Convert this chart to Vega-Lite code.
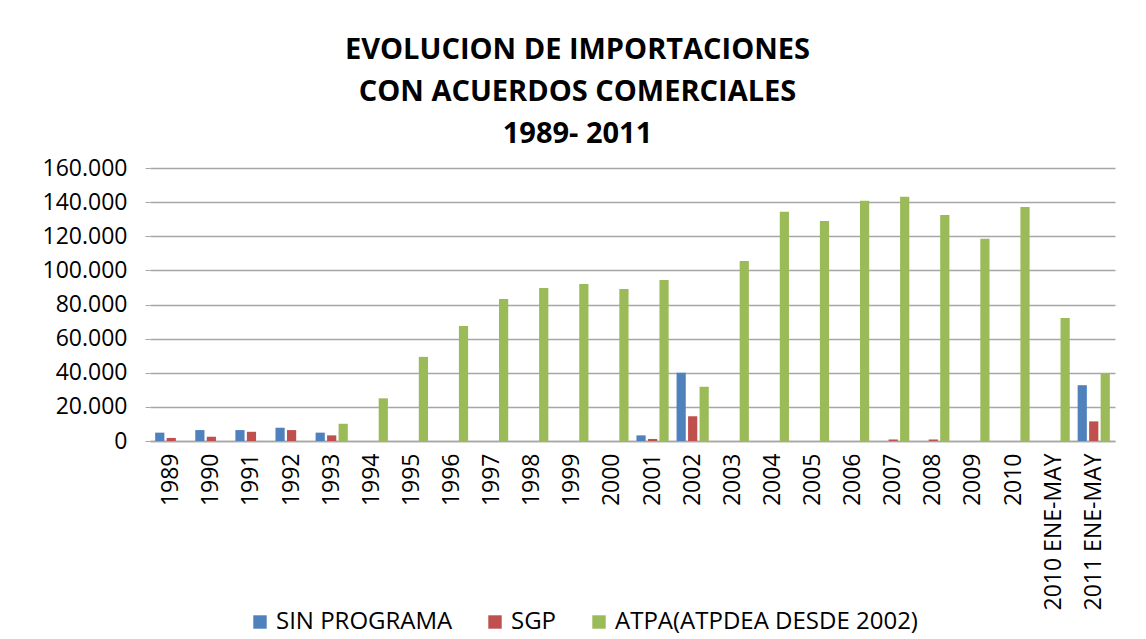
{
  "$schema": "https://vega.github.io/schema/vega-lite/v6.json",
  "autosize": "none",
  "width": 965,
  "height": 273,
  "padding": {"left": 150, "top": 168, "right": 31, "bottom": 198},
  "background": "white",
  "title": {
    "text": ["EVOLUCION DE IMPORTACIONES", "CON ACUERDOS COMERCIALES", "1989- 2011"],
    "font": "Open Sans",
    "fontSize": 29,
    "fontWeight": "bold",
    "color": "#000000",
    "lineHeight": 42,
    "anchor": "middle",
    "dx": -55,
    "offset": 8
  },
  "data": {
    "values": [
      {"cat": "1989", "serie": "SIN PROGRAMA", "valor": 4900},
      {"cat": "1989", "serie": "SGP", "valor": 1800},
      {"cat": "1990", "serie": "SIN PROGRAMA", "valor": 6400},
      {"cat": "1990", "serie": "SGP", "valor": 2500},
      {"cat": "1991", "serie": "SIN PROGRAMA", "valor": 6400},
      {"cat": "1991", "serie": "SGP", "valor": 5400},
      {"cat": "1992", "serie": "SIN PROGRAMA", "valor": 7800},
      {"cat": "1992", "serie": "SGP", "valor": 6400},
      {"cat": "1993", "serie": "SIN PROGRAMA", "valor": 4900},
      {"cat": "1993", "serie": "SGP", "valor": 3300},
      {"cat": "1993", "serie": "ATPA(ATPDEA DESDE 2002)", "valor": 10100},
      {"cat": "1994", "serie": "ATPA(ATPDEA DESDE 2002)", "valor": 25000},
      {"cat": "1995", "serie": "ATPA(ATPDEA DESDE 2002)", "valor": 49300},
      {"cat": "1996", "serie": "ATPA(ATPDEA DESDE 2002)", "valor": 67400},
      {"cat": "1997", "serie": "ATPA(ATPDEA DESDE 2002)", "valor": 83200},
      {"cat": "1998", "serie": "ATPA(ATPDEA DESDE 2002)", "valor": 89700},
      {"cat": "1999", "serie": "ATPA(ATPDEA DESDE 2002)", "valor": 92000},
      {"cat": "2000", "serie": "ATPA(ATPDEA DESDE 2002)", "valor": 89100},
      {"cat": "2001", "serie": "SIN PROGRAMA", "valor": 3300},
      {"cat": "2001", "serie": "SGP", "valor": 1200},
      {"cat": "2001", "serie": "ATPA(ATPDEA DESDE 2002)", "valor": 94400},
      {"cat": "2002", "serie": "SIN PROGRAMA", "valor": 40000},
      {"cat": "2002", "serie": "SGP", "valor": 14500},
      {"cat": "2002", "serie": "ATPA(ATPDEA DESDE 2002)", "valor": 31800},
      {"cat": "2003", "serie": "ATPA(ATPDEA DESDE 2002)", "valor": 105500},
      {"cat": "2004", "serie": "ATPA(ATPDEA DESDE 2002)", "valor": 134300},
      {"cat": "2005", "serie": "ATPA(ATPDEA DESDE 2002)", "valor": 129000},
      {"cat": "2006", "serie": "ATPA(ATPDEA DESDE 2002)", "valor": 140800},
      {"cat": "2007", "serie": "SGP", "valor": 900},
      {"cat": "2007", "serie": "ATPA(ATPDEA DESDE 2002)", "valor": 143100},
      {"cat": "2008", "serie": "SGP", "valor": 900},
      {"cat": "2008", "serie": "ATPA(ATPDEA DESDE 2002)", "valor": 132500},
      {"cat": "2009", "serie": "ATPA(ATPDEA DESDE 2002)", "valor": 118500},
      {"cat": "2010", "serie": "ATPA(ATPDEA DESDE 2002)", "valor": 137200},
      {"cat": "2010 ENE-MAY", "serie": "ATPA(ATPDEA DESDE 2002)", "valor": 72100},
      {"cat": "2011 ENE-MAY", "serie": "SIN PROGRAMA", "valor": 32700},
      {"cat": "2011 ENE-MAY", "serie": "SGP", "valor": 11500},
      {"cat": "2011 ENE-MAY", "serie": "ATPA(ATPDEA DESDE 2002)", "valor": 39700}
    ]
  },
  "mark": {"type": "bar"},
  "encoding": {
    "x": {
      "field": "cat",
      "type": "nominal",
      "sort": null,
      "scale": {"paddingInner": 0.14, "paddingOuter": 0.1},
      "axis": {
        "title": null,
        "labelAngle": 270,
        "labelAlign": "right",
        "labelBaseline": "middle",
        "labelFont": "Open Sans",
        "labelFontSize": 23,
        "labelColor": "#000000",
        "labelPadding": 12,
        "labelLimit": 0,
        "ticks": false,
        "domainColor": "#a6a6a6",
        "domainWidth": 1.5,
        "grid": false
      }
    },
    "xOffset": {
      "field": "serie",
      "type": "nominal",
      "sort": ["SIN PROGRAMA", "SGP", "ATPA(ATPDEA DESDE 2002)"],
      "scale": {"paddingInner": 0.2, "paddingOuter": 0.1}
    },
    "y": {
      "field": "valor",
      "type": "quantitative",
      "scale": {"domain": [0, 160000], "nice": false},
      "axis": {
        "title": null,
        "values": [0, 20000, 40000, 60000, 80000, 100000, 120000, 140000, 160000],
        "labelExpr": "replace(format(datum.value, ',.0f'), /,/g, '.')",
        "labelFont": "Open Sans",
        "labelFontSize": 23,
        "labelColor": "#000000",
        "labelPadding": 18,
        "domain": false,
        "ticks": true,
        "tickSize": 5,
        "tickColor": "#a6a6a6",
        "grid": true,
        "gridColor": "#a6a6a6",
        "gridWidth": 1.5
      }
    },
    "color": {
      "field": "serie",
      "type": "nominal",
      "scale": {
        "domain": ["SIN PROGRAMA", "SGP", "ATPA(ATPDEA DESDE 2002)"],
        "range": ["#4f81bd", "#c0504d", "#9bbb59"]
      },
      "legend": {
        "title": null,
        "orient": "none",
        "legendX": 98,
        "legendY": 442,
        "direction": "horizontal",
        "symbolType": "square",
        "symbolSize": 180,
        "symbolStrokeWidth": 0,
        "labelFont": "Open Sans",
        "labelFontSize": 24,
        "labelColor": "#000000",
        "labelOffset": 4,
        "labelLimit": 0,
        "columnPadding": 30
      }
    }
  },
  "config": {
    "view": {"stroke": null}
  }
}
